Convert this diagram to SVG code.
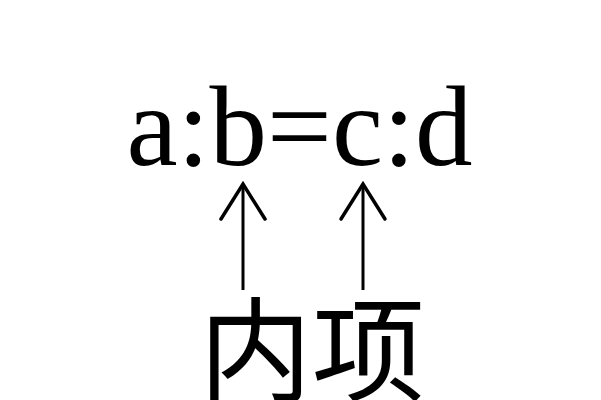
<svg xmlns="http://www.w3.org/2000/svg" width="601" height="400" viewBox="0 0 601 400">
<style>
.eq{font-family:"Liberation Serif","Times New Roman",serif;font-size:115px;fill:#000}
.cjk{font-family:"Liberation Serif","Noto Sans CJK SC",serif;font-size:113px;fill:#000}
.shaft{stroke:#000;stroke-width:3;fill:none}
.head{stroke:#000;stroke-width:3.5;fill:none;stroke-linecap:round;stroke-linejoin:miter}
</style>
<rect width="601" height="400" fill="#fff"/>
<g id="formula"><text class="eq" x="299.5" y="165" text-anchor="middle">a:b=c:d</text></g>
<g id="connectors">
<line class="shaft" x1="243" y1="186" x2="243" y2="290"/>
<polyline class="head" points="221,219 243,184 265,219"/>
<line class="shaft" x1="363" y1="186" x2="363" y2="290"/>
<polyline class="head" points="341,219 363,184 385,219"/>
</g>
<g id="label"><text class="cjk" x="312" y="392" text-anchor="middle">内项</text></g>
</svg>
